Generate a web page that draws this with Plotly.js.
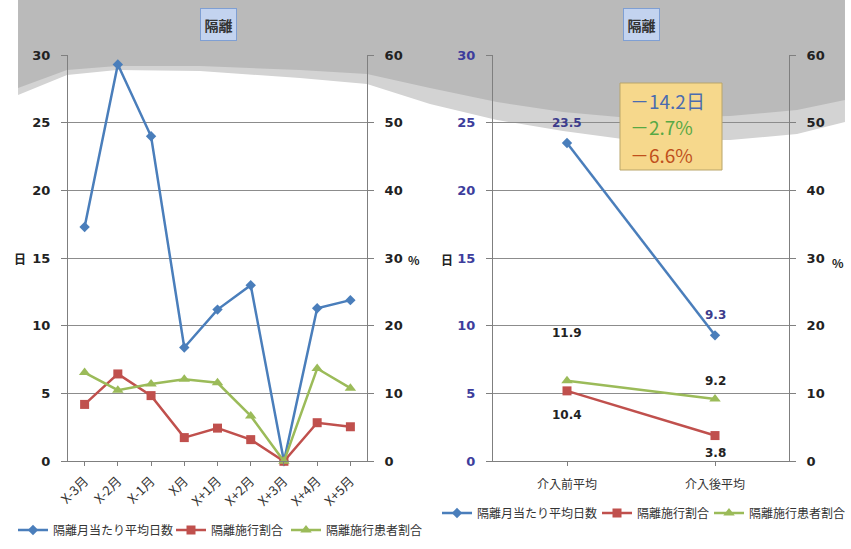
<!DOCTYPE html>
<html><head><meta charset="utf-8">
<script src="https://cdn.plot.ly/plotly-3.0.1.min.js"></script>
<style>html,body{margin:0;padding:0;background:#fff;overflow:hidden}#chart{width:851px;height:549px}</style>
</head><body><div id="chart"></div>
<script>
// ---- data ----
const monthLabels = ["X-3月","X-2月","X-1月","X月","X+1月","X+2月","X+3月","X+4月","X+5月"];
const monthAvgDays = [17.3, 29.3, 24.0, 8.4, 11.2, 13.0, 0, 11.3, 11.9];
const monthIsolationRate = [8.4, 12.9, 9.7, 3.5, 4.9, 3.2, 0, 5.7, 5.1];
const monthPatientRate = [13.1, 10.5, 11.4, 12.1, 11.6, 6.7, 0, 13.7, 10.8];
const periodLabels = ["介入前平均","介入後平均"];
const periodAvgDays = [23.5, 9.3];
const periodIsolationRate = [10.4, 3.8];
const periodPatientRate = [11.9, 9.2];
const seriesNames = ["隔離月当たり平均日数","隔離施行割合","隔離施行患者割合"];
const chartTitle = "隔離";
const leftUnit = "日";
const rightUnit = "%";

// ---- styling ----
const W = 851, H = 549;
const px = x => x / W;
const py = y => 1 - y / H;
const FONT = "'DejaVu Sans', 'Noto Sans CJK JP', sans-serif";
const JP = "'Noto Sans CJK JP', sans-serif";
const colors = ["#4a7ebb", "#c0504d", "#9bbb59"];
const symbols = ["diamond", "square", "triangle-up"];
const sizes = [8, 9, 10];
const leftLegendWidths = [113, 70, 0];
const rightLegendWidths = [115, 67, 0];
const gridC = "#8c8c8c", lineC = "#7f7f7f";

function series(i, x, y, xa, ya, legend, lw) {
  const t = {
    type: "scatter", mode: "lines+markers", name: seriesNames[i],
    x: x, y: y, xaxis: xa, yaxis: ya, legend: legend,
    showlegend: true, cliponaxis: false,
    line: {color: colors[i], width: 2.5},
    marker: {symbol: symbols[i], size: sizes[i], color: colors[i]},
    hoverinfo: "skip"
  };
  if (lw) t.legendwidth = lw;
  return t;
}

const traces = [
  series(0, monthLabels, monthAvgDays, "x", "y", "legend", leftLegendWidths[0]),
  series(1, monthLabels, monthIsolationRate, "x", "y2", "legend", leftLegendWidths[1]),
  series(2, monthLabels, monthPatientRate, "x", "y2", "legend", leftLegendWidths[2]),
  series(0, periodLabels, periodAvgDays, "x2", "y3", "legend2", rightLegendWidths[0]),
  series(1, periodLabels, periodIsolationRate, "x2", "y4", "legend2", rightLegendWidths[1]),
  series(2, periodLabels, periodPatientRate, "x2", "y4", "legend2", rightLegendWidths[2])
];

const yDom = [py(461.3), py(55)];
function yAxisLeft(anchor, labelColor) {
  return {domain: yDom, anchor: anchor, range: [0, 30], dtick: 5, showline: true,
    linecolor: lineC, linewidth: 1, showgrid: true, gridcolor: gridC, gridwidth: 1,
    zeroline: false, ticks: "outside", ticklen: 6, tickcolor: lineC, ticklabelstandoff: 8,
    tickfont: {family: FONT, size: 13, color: labelColor, weight: "bold"}, fixedrange: true, automargin: false};
}
function yAxisRight(anchor, overlay) {
  return {domain: yDom, anchor: anchor, overlaying: overlay, side: "right", range: [0, 60], dtick: 10,
    showline: true, linecolor: lineC, linewidth: 1, showgrid: false, zeroline: false,
    ticks: "outside", ticklen: 6, tickcolor: lineC, ticklabelstandoff: 8,
    tickfont: {family: FONT, size: 13, color: "#222", weight: "bold"}, fixedrange: true, automargin: false};
}
function xAxis(dom, anchor, angle, n, fs, standoff) {
  return {domain: dom, anchor: anchor, type: "category", range: [-0.5, n - 0.5], showline: true, linecolor: lineC,
    showgrid: false, zeroline: false, ticks: "outside", ticklen: 4, tickcolor: lineC, ticklabelstandoff: standoff,
    tickangle: angle, tickfont: {family: JP, size: fs, color: "#333"}, fixedrange: true, automargin: false};
}

// background wave (decoration)
function pathFrom(pts) {
  return pts.map((p, i) => (i ? "L" : "M") + px(p[0]).toFixed(4) + "," + py(p[1]).toFixed(4)).join(" ") + " Z";
}
const waveOuter = [[18,0],[845,0],[845,122],[797,134],[730,140],[630,140],[563,131],[497,120],[430,104],[367,84],[300,78],[200,71],[117,70],[67,75],[18,95]];
const waveInner = [[18,0],[845,0],[845,100],[797,110],[730,116],[630,118],[563,112],[497,102],[430,88],[367,74],[300,70],[200,66],[117,66],[67,70],[18,88]];
const shapes = [
  {type: "path", xref: "paper", yref: "paper", path: pathFrom(waveOuter), fillcolor: "#d3d3d3", line: {width: 0}, layer: "below"},
  {type: "path", xref: "paper", yref: "paper", path: pathFrom(waveInner), fillcolor: "#bababa", line: {width: 0}, layer: "below"},
  // summary box
  {type: "rect", xref: "paper", yref: "paper", x0: px(620), x1: px(722), y0: py(170), y1: py(83),
    fillcolor: "#f6d88c", line: {color: "#b9a56a", width: 1}, layer: "above"}
];

const annotations = [];
function paperNote(x, y, extra) {
  return Object.assign({xref: "paper", yref: "paper", x: px(x), y: py(y), xanchor: "center", yanchor: "middle", showarrow: false}, extra);
}
// title boxes
[[218, 24], [641, 24]].forEach(c => annotations.push(paperNote(c[0], c[1], {
  text: "<b>" + chartTitle + "</b>", width: 33, height: 29, bgcolor: "#c3d3ef", bordercolor: "#7f9fd3", borderwidth: 1,
  font: {family: JP, size: 14, color: "#333"}
})));
// axis unit labels
[[20, 258, leftUnit], [447, 260, leftUnit], [414, 260, rightUnit], [838, 262, rightUnit]].forEach(a => annotations.push(paperNote(a[0], a[1], {
  text: "<b>" + a[2] + "</b>", font: {family: JP, size: 12, color: "#222"}
})));
// data labels on right chart
const lblFont = {family: FONT, size: 12, color: "#222", weight: "bold"};
periodLabels.forEach((c, i) => {
  annotations.push({xref: "x2", yref: "y3", x: c, y: periodAvgDays[i], text: periodAvgDays[i].toFixed(1),
    showarrow: false, yshift: 20, font: Object.assign({}, lblFont, {color: "#3c3c8c"})});
  annotations.push({xref: "x2", yref: "y4", x: c, y: periodPatientRate[i], text: periodPatientRate[i].toFixed(1),
    showarrow: false, yshift: [48, 18][i], font: lblFont});
  annotations.push({xref: "x2", yref: "y4", x: c, y: periodIsolationRate[i], text: periodIsolationRate[i].toFixed(1),
    showarrow: false, yshift: [-24, -17][i], font: lblFont});
});
// change summary lines
const dDays = (periodAvgDays[0] - periodAvgDays[1]).toFixed(1);
const dPatient = (periodPatientRate[0] - periodPatientRate[1]).toFixed(1);
const dRate = (periodIsolationRate[0] - periodIsolationRate[1]).toFixed(1);
[["－" + dDays + "日", "#4a6cb0", 100], ["－" + dPatient + "%", "#58a845", 127], ["－" + dRate + "%", "#c0501c", 154]]
  .forEach(l => annotations.push(paperNote(628, l[2], {xanchor: "left", text: l[0],
    font: {family: JP, size: 19, color: l[1]}})));

const legendBase = {orientation: "h", xanchor: "left", yanchor: "middle", bgcolor: "rgba(0,0,0,0)",
  font: {family: JP, size: 12, color: "#333"}, itemwidth: 30, tracegroupgap: 0};

const layout = {
  width: W, height: H, margin: {l: 0, r: 0, t: 0, b: 0, autoexpand: false},
  paper_bgcolor: "#ffffff", plot_bgcolor: "rgba(0,0,0,0)",
  font: {family: FONT, color: "#222"},
  xaxis: xAxis([px(68), px(367)], "y", -45, monthLabels.length, 13, 2),
  yaxis: yAxisLeft("x", "#222"),
  yaxis2: yAxisRight("x", "y"),
  xaxis2: xAxis([px(493), px(789)], "y3", 0, periodLabels.length, 12, 8),
  yaxis3: yAxisLeft("x2", "#3d3d9c"),
  yaxis4: yAxisRight("x2", "y3"),
  legend: Object.assign({}, legendBase, {x: px(13), y: py(530)}),
  legend2: Object.assign({}, legendBase, {x: px(437), y: py(513)}),
  shapes: shapes,
  annotations: annotations,
  hovermode: false
};

Plotly.newPlot("chart", traces, layout, {displayModeBar: false, staticPlot: true});
</script>
</body></html>
